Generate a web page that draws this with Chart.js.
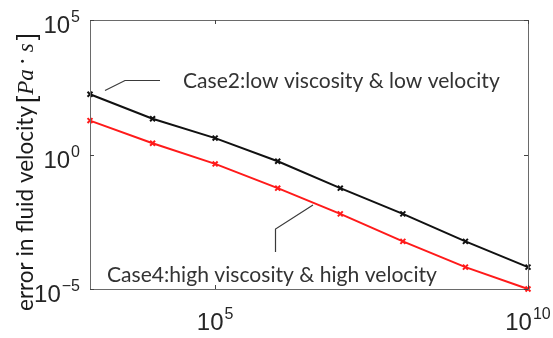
<!DOCTYPE html>
<html>
<head>
<meta charset="utf-8">
<script src="https://cdn.jsdelivr.net/npm/chart.js@4/dist/chart.umd.min.js"></script>
<style>
	body { margin: 0; background: #ffffff; }
	#wrap { width: 553px; height: 338px; }
</style>
</head>
<body>
<div id="wrap"><canvas id="grafica" width="553" height="338"></canvas></div>
<script>
// valores
var numeros = [1e3, 1e4, 1e5, 1e6, 1e7, 1e8, 1e9, 1e10];
var errorCase2 = [174, 21.4, 4.07, 0.56, 0.056, 0.0062, 0.00059, 0.000065];
var errorCase4 = [18.2, 2.63, 0.447, 0.056, 0.0062, 0.00059, 0.000065, 0.00001];
var ticksX = [5, 10];
var ticksY = [5, 0, -5];
var etiquetaCase2 = "Case2:low viscosity & low velocity";
var etiquetaCase4 = "Case4:high viscosity & high velocity";
var tituloY = "error in fluid velocity";

function puntos(valores){
	return numeros.map(function(x, i){ return {x: x, y: valores[i]}; });
}

// dibuja "10" con exponente
function potencia(c, exp, x, y, alinear){
	var base = "10";
	var sup = String(exp).replace("-", "\u2212");
	c.font = "24px 'Liberation Sans'";
	var wb = c.measureText(base).width;
	c.font = "16px 'Liberation Sans'";
	var we = c.measureText(sup).width;
	var x0 = alinear == "centro" ? x - (wb + we + 1) / 2 : x - (wb + we + 1);
	c.textAlign = "left";
	c.textBaseline = "alphabetic";
	c.font = "24px 'Liberation Sans'";
	c.fillText(base, x0, y);
	c.font = "16px 'Liberation Sans'";
	c.fillText(sup, x0 + wb + 1, y - 11);
}

function textoAjustado(c, texto, familia, ancho, x, y){
	c.font = "20px " + familia;
	var w = c.measureText(texto).width;
	var size = 20 * ancho / w;
	c.font = size.toFixed(2) + "px " + familia;
	c.fillText(texto, x, y);
}

var decorado = {
	id: "decorado",
	afterDatasetsDraw: function(chart){
		var c = chart.ctx;
		var a = chart.chartArea;
		var sx = chart.scales.x;
		var sy = chart.scales.y;
		c.save();

		// marco
		c.strokeStyle = "#6a6a6a";
		c.lineWidth = 1;
		c.strokeRect(a.left + 0.5, a.top + 0.5, a.right - a.left, a.bottom - a.top);

		// marcas hacia dentro
		c.strokeStyle = "#444";
		c.beginPath();
		ticksX.forEach(function(e){
			var px = Math.round(sx.getPixelForValue(Math.pow(10, e))) + 0.5;
			c.moveTo(px, a.bottom); c.lineTo(px, a.bottom - 4);
			c.moveTo(px, a.top); c.lineTo(px, a.top + 4);
		});
		ticksY.forEach(function(e){
			var py = Math.round(sy.getPixelForValue(Math.pow(10, e))) + 0.5;
			c.moveTo(a.left, py); c.lineTo(a.left + 4, py);
			c.moveTo(a.right, py); c.lineTo(a.right - 4, py);
		});
		c.stroke();

		// etiquetas de los ejes
		c.fillStyle = "#262626";
		ticksX.forEach(function(e){
			potencia(c, e, sx.getPixelForValue(Math.pow(10, e)), 330, "centro");
		});
		ticksY.forEach(function(e){
			potencia(c, e, 80, sy.getPixelForValue(Math.pow(10, e)) + 13, "derecha");
		});

		// anotaciones
		c.fillStyle = "#333333";
		c.textAlign = "left";
		textoAjustado(c, etiquetaCase2, "Lato", 317, 183, 88);
		textoAjustado(c, etiquetaCase4, "Lato", 330, 107, 282);

		c.strokeStyle = "#3a3a3a";
		c.lineWidth = 1.2;
		c.beginPath();
		c.moveTo(160, 80.5); c.lineTo(125, 80.5); c.lineTo(105, 90.5);
		c.moveTo(313, 205); c.lineTo(275.5, 229); c.lineTo(275.5, 252);
		c.stroke();

		// titulo del eje y
		c.translate(33, 311);
		c.rotate(-Math.PI / 2);
		c.fillStyle = "#1a1a1a";
		textoAjustado(c, tituloY, "Lato", 205, 0, 0);
		var px = 208;
		c.font = "26px 'Liberation Sans'";
		c.fillText("[", px, 2);
		px += c.measureText("[").width + 1;
		c.font = "italic 23px 'Liberation Serif'";
		c.fillText("Pa", px, 0);
		px += c.measureText("Pa").width + 5;
		c.font = "bold 18px 'Liberation Serif'";
		c.fillText("\u00b7", px, -4);
		px += c.measureText("\u00b7").width + 6;
		c.font = "italic 23px 'Liberation Serif'";
		c.fillText("s", px, 0);
		px += c.measureText("s").width + 3;
		c.font = "26px 'Liberation Sans'";
		c.fillText("]", px, 2);

		c.restore();
	}
};

var ctx = document.getElementById("grafica").getContext("2d");
var grafica = new Chart(ctx, {
	type: "line",
	data: {
		datasets: [
			{
				label: "Case2",
				data: puntos(errorCase2),
				borderColor: "#111111",
				backgroundColor: "#111111",
				borderWidth: 2,
				pointStyle: "crossRot",
				pointRadius: 3.5,
				pointBorderWidth: 2,
				clip: false,
			},
			{
				label: "Case4",
				data: puntos(errorCase4),
				borderColor: "#ff1a1a",
				backgroundColor: "#ff1a1a",
				borderWidth: 2,
				pointStyle: "crossRot",
				pointRadius: 3.5,
				pointBorderWidth: 2,
				clip: false,
			},
		],
	},
	options: {
		responsive: false,
		animation: false,
		devicePixelRatio: 1,
		layout: {
			padding: { left: 90, top: 20, right: 25, bottom: 49 }
		},
		plugins: {
			legend: { display: false },
			tooltip: { enabled: false }
		},
		scales: {
			x: {
				type: "logarithmic",
				min: 1e3,
				max: 1e10,
				display: false,
			},
			y: {
				type: "logarithmic",
				min: 1e-5,
				max: 1e5,
				display: false,
			},
		},
	},
	plugins: [decorado],
});
</script>
</body>
</html>
